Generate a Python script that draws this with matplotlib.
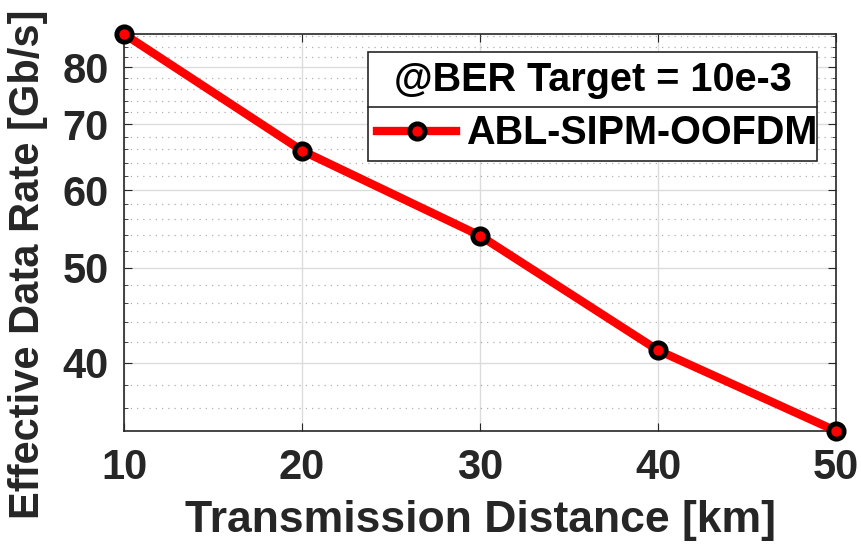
import numpy as np
import matplotlib.pyplot as plt
from matplotlib.ticker import FixedLocator, NullFormatter

# data
distance = [10, 20, 30, 40, 50]
rate = [86.5, 65.8, 53.9, 41.2, 34.1]
y_major = [40, 50, 60, 70, 80]
y_minor = np.arange(34, 88, 2)

plt.rcParams['font.family'] = ['Liberation Sans', 'DejaVu Sans']
plt.rcParams['font.weight'] = 'bold'

fig = plt.figure(figsize=(8.62, 5.46), dpi=100)
ax = fig.add_axes([0.1439, 0.2106, 0.8261, 0.7271])

ax.plot(distance, rate, color='red', linewidth=6, marker='o', markersize=11,
        markerfacecolor='red', markeredgecolor='black', markeredgewidth=3.5,
        label='ABL-SIPM-OOFDM', clip_on=False, zorder=4)

ax.set_yscale('log')
ax.set_xlim(10, 50)
ax.set_ylim(min(rate), max(rate))
ax.set_xticks(distance)
ax.yaxis.set_major_locator(FixedLocator(y_major))
ax.yaxis.set_minor_locator(FixedLocator(y_minor))
ax.set_yticklabels([str(v) for v in y_major])
ax.yaxis.set_minor_formatter(NullFormatter())

# grid: solid major, dotted minor
ax.grid(True, which='major', color='#dcdcdc', linewidth=1.0, linestyle='-')
ax.grid(True, which='minor', axis='y', color='#b0b0b0', linewidth=0.9, linestyle=(0, (1, 4)))
ax.set_axisbelow(True)

ax.tick_params(which='both', direction='in', top=True, right=True, colors='#262626',
               labelsize=30, length=6)
ax.tick_params(axis='x', pad=12)
ax.tick_params(axis='y', pad=11)
ax.tick_params(which='minor', length=3)
for s in ax.spines.values():
    s.set_color('#262626')
    s.set_linewidth(1.2)

ax.set_xlabel('Transmission Distance [km]', fontsize=32, fontweight='bold', color='#262626', labelpad=9)
ax.set_ylabel('Effective Data Rate [Gb/s]', fontsize=30, fontweight='bold', color='#262626')
ax.yaxis.set_label_coords(-0.107, 0.42)

leg = ax.legend(title='@BER Target = 10e-3', loc='upper left', mode='expand',
                bbox_to_anchor=(0.343, 0.955, 0.630, 0.0), fancybox=False, framealpha=1,
                edgecolor='#262626', fontsize=28.5, title_fontsize=28.5, handlelength=2.0,
                handletextpad=0.25, borderpad=0.22, labelspacing=0.4, borderaxespad=0)
leg.get_title().set_fontweight('bold')
leg.get_frame().set_linewidth(1.2)

# separator between legend title and entry
fig.canvas.draw()
inv = ax.transAxes.inverted()
t_bot = inv.transform(leg.get_title().get_window_extent())[0, 1]
e_top = inv.transform(leg.get_texts()[0].get_window_extent())[1, 1]
fb = inv.transform(leg.get_frame().get_window_extent())
y_sep = (t_bot + e_top) / 2
ax.plot([fb[0, 0], fb[1, 0]], [y_sep, y_sep], transform=ax.transAxes, color='#262626',
        linewidth=1.2, zorder=6, clip_on=False)

fig.savefig('out.png', dpi=100)
